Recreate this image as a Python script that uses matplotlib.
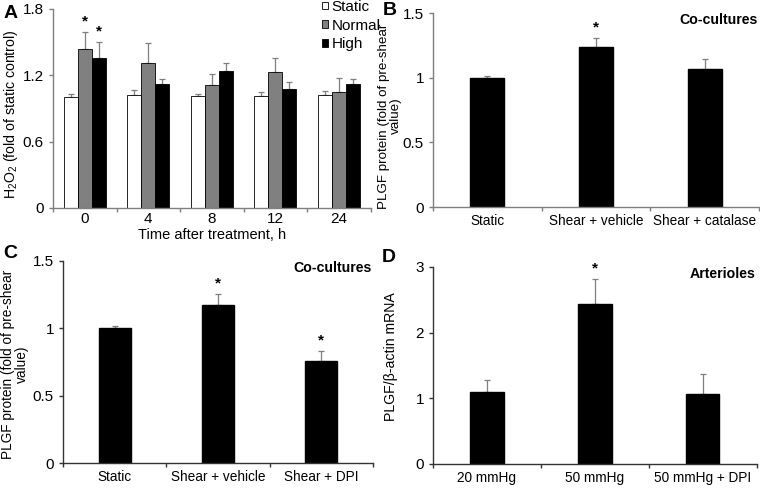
import matplotlib
matplotlib.use("Agg")
import matplotlib.pyplot as plt
import numpy as np
from matplotlib.patches import Patch

plt.rcParams['font.family'] = ['Liberation Sans', 'DejaVu Sans']
plt.rcParams['mathtext.fontset'] = 'custom'
plt.rcParams['mathtext.rm'] = 'Liberation Sans'
plt.rcParams['mathtext.it'] = 'Liberation Sans:italic'

# Panel A data
a_times = ["0", "4", "8", "12", "24"]
a_series = ["Static", "Normal", "High"]
a_static = [1.00, 1.02, 1.01, 1.01, 1.02]
a_static_err = [0.03, 0.05, 0.02, 0.04, 0.04]
a_normal = [1.44, 1.31, 1.11, 1.23, 1.05]
a_normal_err = [0.15, 0.18, 0.10, 0.13, 0.13]
a_high = [1.36, 1.12, 1.24, 1.08, 1.12]
a_high_err = [0.14, 0.05, 0.07, 0.06, 0.05]
a_sig = [[False, True, True], [False]*3, [False]*3, [False]*3, [False]*3]

# Panel B data
b_cats = ["Static", "Shear + vehicle", "Shear + catalase"]
b_vals = [1.00, 1.24, 1.07]
b_err = [0.01, 0.065, 0.075]
b_sig = [False, True, False]

# Panel C data
c_cats = ["Static", "Shear + vehicle", "Shear + DPI"]
c_vals = [1.00, 1.175, 0.755]
c_err = [0.02, 0.078, 0.075]
c_sig = [False, True, True]

# Panel D data
d_cats = ["20 mmHg", "50 mmHg", "50 mmHg + DPI"]
d_vals = [1.09, 2.44, 1.07]
d_err = [0.19, 0.37, 0.30]
d_sig = [False, True, False]

XFS = 9.8
YFS = 11
LFS = 10.2
GREY = '#7f7f7f'

fig = plt.figure(figsize=(7.6, 4.88), dpi=100)

def style(ax, n, spine_col=GREY):
    for s in ['top', 'right']:
        ax.spines[s].set_visible(False)
    for s in ['left', 'bottom']:
        ax.spines[s].set_color(spine_col)
        ax.spines[s].set_linewidth(1.0)
    ax.set_xlim(-0.5, n - 0.5)
    ax.set_xticks(np.arange(n + 1) - 0.5)
    ax.set_xticklabels([])
    ax.set_xticks(np.arange(n), minor=True)
    ax.tick_params(axis='x', which='major', length=3, color=spine_col, width=1.0)
    ax.tick_params(axis='x', which='minor', length=0, labelsize=XFS, pad=5)
    ax.tick_params(axis='y', length=3, color=spine_col, width=1.0, labelsize=YFS)

# ---- Panel A
axA = fig.add_axes([0.0697, 0.5738, 0.418, 0.4078])
x = np.arange(len(a_times))
w = 0.22
specs = [(a_static, a_static_err, 'white'), (a_normal, a_normal_err, '#808080'), (a_high, a_high_err, 'black')]
for i, (vals, errs, col) in enumerate(specs):
    xs = x + (i - 1) * w
    axA.bar(xs, vals, width=w, color=col, edgecolor='black', linewidth=0.6, zorder=2)
    axA.errorbar(xs, vals, yerr=[np.zeros(len(vals)), errs], fmt='none', ecolor=GREY,
                 elinewidth=0.9, capsize=2.5, capthick=0.9, zorder=1)
    for j in range(len(vals)):
        if a_sig[j][i]:
            axA.text(xs[j], vals[j] + errs[j] + 0.03, '*', ha='center', va='bottom', fontsize=11, fontweight='bold')
axA.set_ylim(0, 1.8)
axA.set_yticks([0, 0.6, 1.2, 1.8])
axA.set_yticklabels(['0', '0.6', '1.2', '1.8'])
style(axA, len(a_times))
axA.set_xticklabels(a_times, minor=True, fontsize=YFS)
axA.tick_params(axis='x', which='minor', pad=3)
axA.set_ylabel('H$_2$O$_2$ (fold of static control)', fontsize=10.2)
axA.yaxis.set_label_coords(-0.105, 0.472)
axA.set_xlabel('Time after treatment, h', fontsize=LFS + 0.3, labelpad=1)
handles = [Patch(facecolor=c, edgecolor='black', linewidth=0.6) for c in ['white', '#808080', 'black']]
fig.legend(handles, a_series, loc='upper left', bbox_to_anchor=(0.424, 1.0), frameon=False,
           fontsize=11, handlelength=0.4, handleheight=0.4, handletextpad=0.2,
           labelspacing=0.3, borderpad=0.0, borderaxespad=0.0)
fig.text(0.004, 0.99, 'A', fontsize=14, fontweight='bold', va='top', ha='left')

def simple(ax, cats, vals, errs, sig, ylim, yticks, yticklabels, ylabel, ylfs, title, letter, lx, ly, spine_col):
    xx = np.arange(len(cats))
    ax.bar(xx, vals, width=0.31, color='black', edgecolor='black', zorder=2)
    ax.errorbar(xx, vals, yerr=[np.zeros(len(vals)), errs], fmt='none', ecolor=GREY,
                elinewidth=0.9, capsize=2.5, capthick=0.9, zorder=1)
    for j in range(len(vals)):
        if sig[j]:
            ax.text(xx[j], vals[j] + errs[j] + ylim[1] * 0.02, '*', ha='center', va='bottom',
                    fontsize=11, fontweight='bold')
    ax.set_ylim(*ylim)
    ax.set_yticks(yticks)
    ax.set_yticklabels(yticklabels)
    style(ax, len(cats), spine_col)
    ax.set_xticklabels(cats, minor=True)
    ax.set_ylabel(ylabel, fontsize=ylfs, linespacing=1.0)
    ax.text(0.995, 1.0, title, transform=ax.transAxes, ha='right', va='top', fontsize=LFS, fontweight='bold')
    fig.text(lx, ly, letter, fontsize=14, fontweight='bold', va='top', ha='left')

axB = fig.add_axes([0.5697, 0.5758, 0.429, 0.3975])
simple(axB, b_cats, b_vals, b_err, b_sig, (0, 1.5), [0, 0.5, 1, 1.5], ['0', '0.5', '1', '1.5'],
       'PLGF protein (fold of pre-shear\nvalue)', 9.6, 'Co-cultures', 'B', 0.503, 0.995, GREY)
axB.yaxis.set_label_coords(-0.094, 0.47)

axC = fig.add_axes([0.0829, 0.0512, 0.408, 0.414])
simple(axC, c_cats, c_vals, c_err, c_sig, (0, 1.5), [0, 0.5, 1, 1.5], ['0', '0.5', '1', '1.5'],
       'PLGF protein (fold of pre-shear\nvalue)', 9.8, 'Co-cultures', 'C', 0.004, 0.497, '#333333')
axC.yaxis.set_label_coords(-0.11, 0.49)

axD = fig.add_axes([0.5697, 0.0492, 0.426, 0.4037])
simple(axD, d_cats, d_vals, d_err, d_sig, (0, 3), [0, 1, 2, 3], ['0', '1', '2', '3'],
       'PLGF/β-actin mRNA', 10.2, 'Arterioles', 'D', 0.502, 0.49, '#333333')
axD.yaxis.set_label_coords(-0.108, 0.543)

fig.savefig('out.png', dpi=100)
